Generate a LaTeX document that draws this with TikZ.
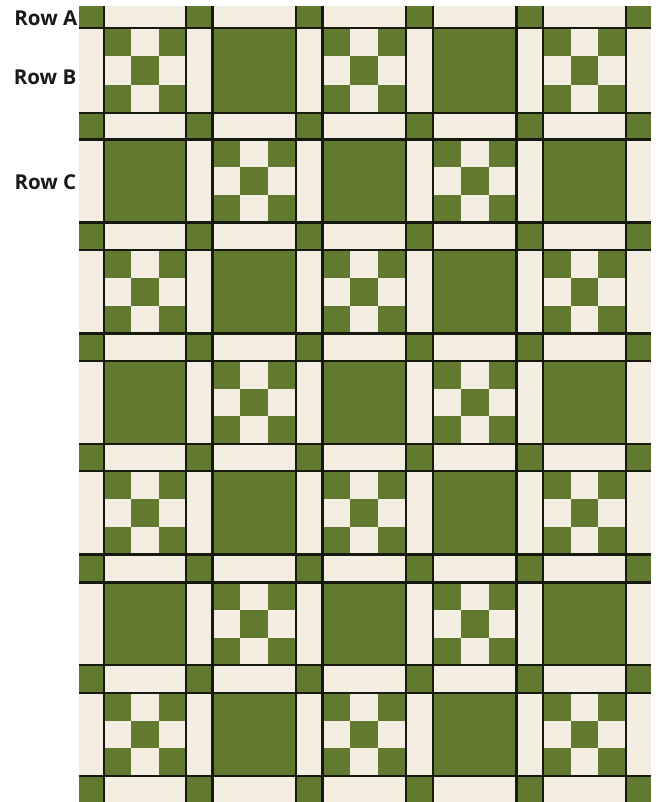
\documentclass[tikz,border=0pt]{standalone}
\usepackage{fontspec}
\setmainfont{Open Sans}
\definecolor{qgreen}{RGB}{98,121,48}
\definecolor{qcream}{RGB}{244,237,226}
\definecolor{qline}{RGB}{22,26,14}
\definecolor{qtext}{RGB}{25,25,25}
\tikzset{
  rowlabel/.style={anchor=base east, inner sep=0pt, font=\bfseries\fontsize{20.5}{21}\selectfont, text=qtext},
  seam/.style={draw=qline, line width=2.2pt}
}
\begin{document}
\begin{tikzpicture}[x=1pt,y=-1pt]
\useasboundingbox[fill=white] (0,0) rectangle (662,802);
% background cream
\fill[qcream] (79,6) rectangle (651,802);
% cornerstones
\foreach \ya/\yb in {6/28,113/139.5,222.5/250,333.5/361,444/471,554.5/582.5,665/693,776/802}
  \foreach \xa/\xb in {79/104,186/212.5,296/322.5,406/433,516.5/543.3,626/651}
    \fill[qgreen] (\xa,\ya) rectangle (\xb,\yb);
% blocks
\foreach \ya/\yb [count=\i] in {28/113,139.5/222.5,250/333.5,361/444,471/554.5,582.5/665,693/776}{
  \foreach \xa/\xb [count=\j] in {104/186,212.5/296,322.5/406,433/516.5,543.3/626}{
    \pgfmathtruncatemacro\qpar{mod(\i+\j,2)}
    \ifnum\qpar=1
      \fill[qgreen] (\xa,\ya) rectangle (\xb,\yb);
    \else
      \pgfmathsetmacro\wa{(\xb-\xa)/3}
      \pgfmathsetmacro\ha{(\yb-\ya)/3}
      \foreach \p/\q in {0/0,2/0,1/1,0/2,2/2}
        \fill[qgreen] ({\xa+\p*\wa},{\ya+\q*\ha}) rectangle ({\xa+(\p+1)*\wa},{\ya+(\q+1)*\ha});
    \fi
  }
}
% seams
\foreach \x in {104,186,212.5,296,322.5,406,433,516.5,543.3,626}
  \draw[seam] (\x,6) -- (\x,802);
\foreach \y in {28,113,139.5,222.5,250,333.5,361,444,471,554.5,582.5,665,693,776}
  \draw[seam] (79,\y) -- (651,\y);
% labels
\node[rowlabel] (rowa) at (77.5,26) {Row A};
\node[rowlabel] (rowb) at (76.5,85) {Row B};
\node[rowlabel] (rowc) at (76.5,189.5) {Row C};
\end{tikzpicture}
\end{document}
